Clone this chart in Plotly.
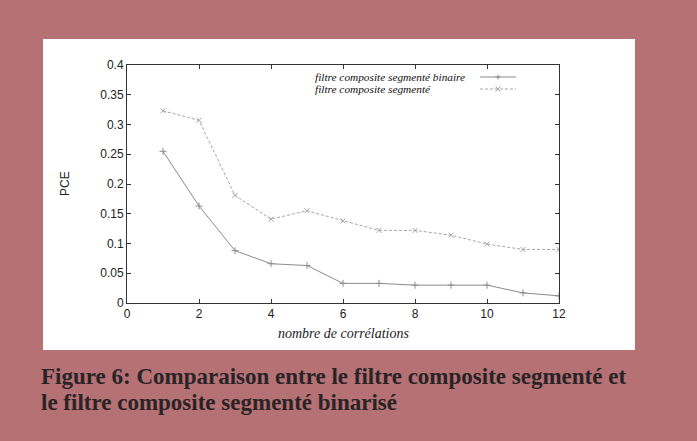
import plotly.graph_objects as go

# ---- data ----
x_vals = [1, 2, 3, 4, 5, 6, 7, 8, 9, 10, 11, 12]
binaire = [0.255, 0.163, 0.088, 0.066, 0.063, 0.033, 0.033, 0.030, 0.030, 0.030, 0.017, 0.012]
segmente = [0.323, 0.307, 0.181, 0.141, 0.155, 0.138, 0.122, 0.122, 0.114, 0.099, 0.090, 0.090]
name_bin = "filtre composite segmenté binaire"
name_seg = "filtre composite segmenté"
x_title = "nombre de corrélations"
y_title = "PCE"
caption_lines = ["Figure 6: Comparaison entre le filtre composite segmenté et",
                 "le filtre composite segmenté binarisé"]

W, H = 697, 441
L, R, T, B = 127, 559, 65, 303  # plot area in pixels
PW, PH = R - L, B - T

def px(xp):
    return (xp - L) / PW

def py(yp):
    return (B - yp) / PH

BG = "#b57174"
C_BIN = "#8c8c8c"
C_SEG = "#a6a6a6"
AX = "#333333"

fig = go.Figure()
fig.add_trace(go.Scatter(
    x=x_vals, y=binaire, mode="lines+markers", name=name_bin,
    line=dict(color=C_BIN, width=1),
    marker=dict(symbol="cross-thin", size=5, color=C_BIN, line=dict(color=C_BIN, width=1)),
    showlegend=False))
fig.add_trace(go.Scatter(
    x=x_vals, y=segmente, mode="lines+markers", name=name_seg,
    line=dict(color=C_SEG, width=1, dash="3px,2px"),
    marker=dict(symbol="x-thin", size=5, color=C_SEG, line=dict(color=C_SEG, width=1)),
    showlegend=False))

shapes = []
# white panel
shapes.append(dict(type="rect", xref="paper", yref="paper", layer="below",
                   x0=px(43), x1=px(635), y0=py(350), y1=py(39),
                   fillcolor="white", line=dict(width=0)))
# legend keys
for yk, col, dash in [(77, C_BIN, "solid"), (89, C_SEG, "3px,2px")]:
    shapes.append(dict(type="line", xref="paper", yref="paper",
                       x0=px(480), x1=px(516), y0=py(yk), y1=py(yk),
                       line=dict(color=col, width=1, dash=dash)))
# key markers
cx = 498
shapes += [
    dict(type="line", xref="paper", yref="paper", x0=px(cx - 2.5), x1=px(cx + 2.5), y0=py(77), y1=py(77), line=dict(color=C_BIN, width=1)),
    dict(type="line", xref="paper", yref="paper", x0=px(cx), x1=px(cx), y0=py(74.5), y1=py(79.5), line=dict(color=C_BIN, width=1)),
    dict(type="line", xref="paper", yref="paper", x0=px(cx - 2.5), x1=px(cx + 2.5), y0=py(86.5), y1=py(91.5), line=dict(color=C_SEG, width=1)),
    dict(type="line", xref="paper", yref="paper", x0=px(cx - 2.5), x1=px(cx + 2.5), y0=py(91.5), y1=py(86.5), line=dict(color=C_SEG, width=1)),
]

annotations = []
leg_font = dict(family="Liberation Serif", size=11.3, color="#111111")
for yk, txt in [(77, name_bin), (89, name_seg)]:
    annotations.append(dict(xref="paper", yref="paper", x=px(313), y=py(yk),
                            xanchor="left", yanchor="middle", showarrow=False,
                            text="<i>" + txt + "</i>", font=leg_font))
annotations.append(dict(xref="paper", yref="paper", x=px(343), y=py(333),
                        xanchor="center", yanchor="middle", showarrow=False,
                        text="<i>" + x_title + "</i>",
                        font=dict(family="Liberation Serif", size=14, color="#222222")))
annotations.append(dict(xref="paper", yref="paper", x=px(65), y=py(184),
                        xanchor="center", yanchor="middle", showarrow=False, textangle=-90,
                        text=y_title,
                        font=dict(family="Liberation Sans", size=12, color="#222222")))
for i, (yc, txt) in enumerate(zip([376, 402], caption_lines)):
    annotations.append(dict(xref="paper", yref="paper", x=px(39), y=py(yc),
                            xanchor="left", yanchor="middle", showarrow=False,
                            text="<b>" + txt + "</b>",
                            font=dict(family="Liberation Serif", size=23, color="#2a2326")))

tick_font = dict(family="Liberation Sans", size=12, color="#222222")
fig.update_layout(
    width=W, height=H,
    margin=dict(l=L, r=W - R, t=T, b=H - B, pad=0),
    paper_bgcolor=BG, plot_bgcolor="white",
    xaxis=dict(range=[0, 12], tick0=0, dtick=2, ticks="inside", ticklen=4,
               tickcolor=AX, showline=True, linecolor=AX, linewidth=1, mirror="ticks",
               showgrid=False, zeroline=False, tickfont=tick_font),
    yaxis=dict(range=[0, 0.4], tick0=0, dtick=0.05, ticks="inside", ticklen=4,
               tickcolor=AX, showline=True, linecolor=AX, linewidth=1, mirror="ticks",
               showgrid=False, zeroline=False, tickfont=tick_font),
    shapes=shapes, annotations=annotations,
)

fig.write_html("out.html", config={"displayModeBar": False},
               post_script="document.body.style.margin='0';document.body.style.overflow='hidden';")
